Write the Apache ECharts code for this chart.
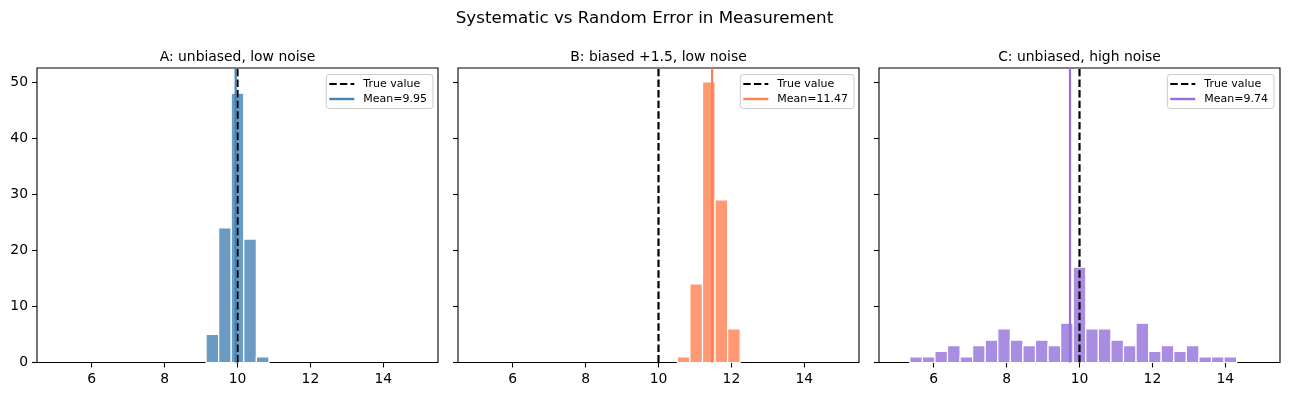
<!DOCTYPE html>
<html>
<head>
<meta charset="utf-8">
<script src="https://cdn.jsdelivr.net/npm/echarts@6/dist/echarts.min.js"></script>
<style>
html,body{margin:0;padding:0;background:#fff;}
#chart{width:1289px;height:396px;}
</style>
</head>
<body>
<div id="chart"></div>
<script>
// ---- data ----
const suptitle = "Systematic vs Random Error in Measurement";
const panelTitles = ["A: unbiased, low noise", "B: biased +1.5, low noise", "C: unbiased, high noise"];
const binEdges = [5.000, 5.345, 5.690, 6.034, 6.379, 6.724, 7.069, 7.414, 7.759, 8.103,
                  8.448, 8.793, 9.138, 9.483, 9.828, 10.172, 10.517, 10.862, 11.207, 11.552,
                  11.897, 12.241, 12.586, 12.931, 13.276, 13.621, 13.966, 14.310, 14.655, 15.000];
const countsA = [0,0,0,0,0,0,0,0,0,0,0,0,5,24,48,22,1,0,0,0,0,0,0,0,0,0,0,0,0];
const countsB = [0,0,0,0,0,0,0,0,0,0,0,0,0,0,0,0,1,14,50,29,6,0,0,0,0,0,0,0,0];
const countsC = [0,1,1,2,3,1,3,4,6,4,3,4,3,7,17,6,6,4,3,7,2,3,2,3,1,1,1,0,0];
const trueValue = 10;
const means = [9.95, 11.47, 9.74];
const meanLabels = ["Mean=9.95", "Mean=11.47", "Mean=9.74"];
const xTicks = [6, 8, 10, 12, 14];
const yTicks = [0, 10, 20, 30, 40, 50];
const xRange = [4.5, 15.5];
const yRange = [0, 52.5];

// ---- styling ----
const FONT = "DejaVu Sans";
const lineColors = ["#4682b4", "#ff7f50", "#9370db"];
const barColors = ["rgba(70,130,180,0.8)", "rgba(255,127,80,0.8)", "rgba(147,112,219,0.8)"];
const gridLefts = [37, 458, 879];
const gridWidth = 401;
const gridTop = 68;
const gridHeight = 294.5;
const legendRights = [856, 435, 15];
const allCounts = [countsA, countsB, countsC];

const grids = [], xAxes = [], yAxes = [], series = [], titles = [], legends = [];

titles.push({
  text: suptitle, left: 644.5, top: 10, textAlign: 'center', padding: 0,
  textStyle: {fontFamily: FONT, fontSize: 16.7, fontWeight: 'normal', color: '#000'}
});

for (let p = 0; p < 3; p++) {
  grids.push({left: gridLefts[p], top: gridTop, width: gridWidth, height: gridHeight,
    show: true, borderColor: '#000', borderWidth: 1.1, backgroundColor: 'transparent', containLabel: false});
  titles.push({
    text: panelTitles[p], left: gridLefts[p] + gridWidth / 2, top: 50, textAlign: 'center', padding: 0,
    textStyle: {fontFamily: FONT, fontSize: 13.9, fontWeight: 'normal', color: '#000'}
  });
  xAxes.push({
    type: 'value', gridIndex: p, min: xRange[0], max: xRange[1],
    axisLine: {show: false},
    splitLine: {show: false},
    axisTick: {show: true, customValues: xTicks, length: 5, lineStyle: {color: '#000', width: 1.1}},
    axisLabel: {show: true, customValues: xTicks, margin: 9.5, color: '#000', fontFamily: FONT, fontSize: 13.9}
  });
  yAxes.push({
    type: 'value', gridIndex: p, min: yRange[0], max: yRange[1],
    axisLine: {show: false},
    splitLine: {show: false},
    axisTick: {show: true, customValues: yTicks, length: 5, lineStyle: {color: '#000', width: 1.1}},
    axisLabel: {show: p === 0, customValues: yTicks, margin: 9, color: '#000', fontFamily: FONT, fontSize: 13.9}
  });

  const data = [];
  const counts = allCounts[p];
  for (let i = 0; i < counts.length; i++) {
    if (counts[i] > 0) data.push([binEdges[i], binEdges[i + 1], counts[i]]);
  }
  const fill = barColors[p];
  series.push({
    type: 'custom', xAxisIndex: p, yAxisIndex: p, z: 2,
    encode: {x: [0, 1], y: 2},
    data: data,
    renderItem: function (params, api) {
      const a = api.coord([api.value(0), api.value(2)]);
      const b = api.coord([api.value(1), 0]);
      return {type: 'rect', shape: {x: a[0], y: a[1], width: b[0] - a[0], height: b[1] - a[1]},
        style: {fill: fill, stroke: '#ffffff', lineWidth: 1.2}};
    }
  });
  series.push({
    name: 'True value', type: 'line', xAxisIndex: p, yAxisIndex: p, z: 3,
    symbol: 'none', silent: true,
    data: [[trueValue, yRange[0]], [trueValue, yRange[1]]],
    itemStyle: {color: '#000'},
    lineStyle: {color: '#000', width: 2.2, type: [7.4, 3.2]}
  });
  series.push({
    name: meanLabels[p], type: 'line', xAxisIndex: p, yAxisIndex: p, z: 4,
    symbol: 'none', silent: true,
    data: [[means[p], yRange[0]], [means[p], yRange[1]]],
    itemStyle: {color: lineColors[p]},
    lineStyle: {color: lineColors[p], width: 2.2}
  });
  legends.push({
    orient: 'vertical', right: legendRights[p], top: 74.5,
    backgroundColor: 'rgba(255,255,255,0.8)', borderColor: '#cccccc', borderWidth: 1, borderRadius: 3,
    padding: [4, 6, 4, 3], itemGap: 4, itemWidth: 25, itemHeight: 2.4,
    itemStyle: {borderWidth: 0},
    selectedMode: false,
    textStyle: {fontFamily: FONT, fontSize: 11, color: '#000', lineHeight: 11, padding: [0, 0, 0, 4]},
    data: [
      {name: 'True value', icon: 'path://M0,0H7.4V2H0Z M10.6,0H18V2H10.6Z M21.2,0H25V2H21.2Z'},
      {name: meanLabels[p], icon: 'rect'}
    ]
  });
}

const chart = echarts.init(document.getElementById('chart'), null, {renderer: 'canvas'});
chart.setOption({
  animation: false,
  backgroundColor: '#fff',
  title: titles,
  grid: grids,
  xAxis: xAxes,
  yAxis: yAxes,
  legend: legends,
  series: series
});
</script>
</body>
</html>
